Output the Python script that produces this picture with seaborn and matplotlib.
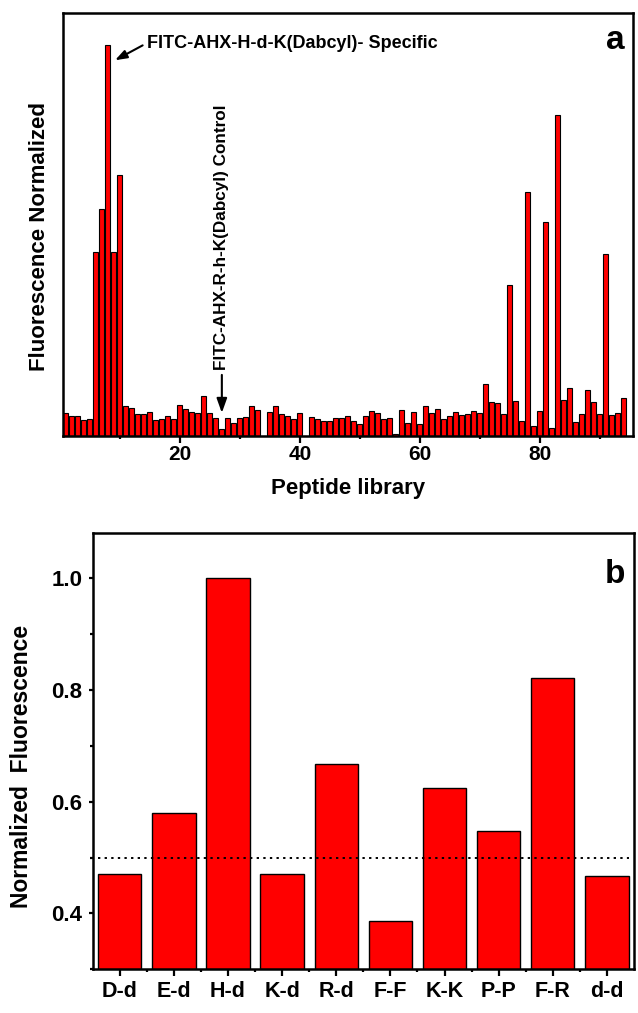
import numpy as np
import pandas as pd
import matplotlib
matplotlib.use('Agg')
import matplotlib.pyplot as plt
import seaborn as sns

# 数据：肽库编号与归一化荧光值
peptide_no = list(range(1, 95))
fluor_norm = [
    0.059, 0.052, 0.052, 0.040, 0.044, 0.471, 0.580, 1.000, 0.471, 0.666,
    0.077, 0.071, 0.055, 0.055, 0.062, 0.040, 0.043, 0.052, 0.043, 0.080,
    0.070, 0.062, 0.059, 0.101, 0.059, 0.047, 0.019, 0.047, 0.034, 0.047,
    0.049, 0.077, 0.067, 0.000, 0.062, 0.076, 0.057, 0.050, 0.043, 0.059,
    0.000, 0.049, 0.043, 0.038, 0.038, 0.046, 0.045, 0.050, 0.039, 0.031,
    0.051, 0.063, 0.059, 0.044, 0.046, 0.004, 0.066, 0.034, 0.061, 0.030,
    0.076, 0.058, 0.070, 0.043, 0.052, 0.062, 0.054, 0.057, 0.064, 0.059,
    0.134, 0.088, 0.085, 0.056, 0.387, 0.089, 0.038, 0.624, 0.026, 0.064,
    0.547, 0.020, 0.821, 0.092, 0.122, 0.035, 0.057, 0.117, 0.088, 0.057,
    0.466, 0.054, 0.059, 0.098,
]

# 选出的二肽
pairs = ['D-d', 'E-d', 'H-d', 'K-d', 'R-d', 'F-F', 'K-K', 'P-P', 'F-R', 'd-d']
pair_fluor = [0.470, 0.579, 1.000, 0.471, 0.667, 0.387, 0.625, 0.547, 0.821, 0.467]

specific_no = 8
control_no = 27
threshold = 0.5

sns.set_style('ticks')
plt.rcParams['font.family'] = ['Liberation Sans', 'DejaVu Sans']
plt.rcParams['font.weight'] = 'bold'
plt.rcParams['axes.labelweight'] = 'bold'
plt.rcParams['axes.linewidth'] = 1.8
# 全部改成纯黑
for k in ['axes.edgecolor', 'axes.labelcolor', 'text.color', 'xtick.color', 'ytick.color']:
    plt.rcParams[k] = 'black'

df_lib = pd.DataFrame({'no': peptide_no, 'val': fluor_norm})
df_pair = pd.DataFrame({'pair': pairs, 'val': pair_fluor})

fig = plt.figure(figsize=(6.38, 10.13), dpi=100)
ax1 = fig.add_axes([0.098, 0.5696, 0.894, 0.4173])
ax2 = fig.add_axes([0.1453, 0.0431, 0.8484, 0.4304])

# 上图：肽库筛选
sns.barplot(data=df_lib, x='no', y='val', native_scale=True, color='red',
            saturation=1, width=0.8, edgecolor='black', linewidth=0.8, ax=ax1)
ax1.set_xlim(0.45, 95.5)
ax1.set_ylim(0, 1.08)
ax1.set_yticks([])
ax1.set_xticks([20, 40, 60, 80])
ax1.set_xticks([10, 30, 50, 70, 90], minor=True)
ax1.tick_params(axis='x', which='major', direction='out', length=5, width=1.6,
                labelsize=15, pad=1.5)
ax1.tick_params(axis='x', which='minor', direction='out', length=2.5, width=1.6)
ax1.set_xlabel('Peptide library', fontsize=16, fontweight='bold', va='center')
ax1.xaxis.set_label_coords(0.5, -0.125)
ax1.set_ylabel('Fluorescence Normalized', fontsize=16, fontweight='bold', va='center')
ax1.yaxis.set_label_coords(-0.04, 0.471)
for s in ax1.spines.values():
    s.set_visible(True)
    s.set_linewidth(1.8)

# 标注
spec_val = fluor_norm[specific_no - 1]
arrow_style = dict(arrowstyle='-|>,head_width=0.25,head_length=0.7',
                   color='black', lw=1.5, shrinkA=0, shrinkB=0)
ax1.text(specific_no + 6.6, spec_val * 1.003, 'FITC-AHX-H-d-K(Dabcyl)- Specific',
         fontsize=13, fontweight='bold', ha='left', va='center')
ax1.annotate('', xy=(specific_no + 1.2, spec_val * 0.96),
             xytext=(specific_no + 5.8, spec_val * 0.998), arrowprops=arrow_style)
ax1.annotate('FITC-AHX-R-h-K(Dabcyl) Control',
             xy=(control_no, 0.059), xytext=(control_no, 0.168),
             fontsize=12.3, fontweight='bold', ha='center', va='bottom',
             rotation=90, arrowprops=dict(arrow_style, shrinkA=1))
ax1.text(0.97, 0.915, 'a', transform=ax1.transAxes, fontsize=24,
         fontweight='bold', ha='center', va='baseline')

# 下图：二肽归一化荧光
sns.barplot(data=df_pair, x='pair', y='val', color='red', saturation=1,
            width=0.8, edgecolor='black', linewidth=1.0, ax=ax2)
ax2.set_xlim(-0.5, 9.5)
ax2.set_ylim(0.3, 1.08)
ax2.set_yticks([0.4, 0.6, 0.8, 1.0])
ax2.set_yticks([0.3, 0.5, 0.7, 0.9], minor=True)
ax2.set_xticks(np.arange(0.5, 9, 1), minor=True)
ax2.tick_params(axis='y', which='major', direction='out', length=3, width=1.6,
                labelsize=16, pad=4.5)
ax2.tick_params(axis='y', which='minor', direction='out', length=2, width=1.6)
ax2.tick_params(axis='x', which='major', direction='out', length=5, width=1.6,
                labelsize=15.5, pad=3.5)
ax2.tick_params(axis='x', which='minor', direction='out', length=2.5, width=1.6)
ax2.hlines(threshold, -0.4, 9.4, colors='black', linestyles=(0, (1.2, 2.2)), lw=1.4)
ax2.set_xlabel('')
ax2.set_ylabel('Normalized  Fluorescence', fontsize=16.5, fontweight='bold', va='center')
ax2.yaxis.set_label_coords(-0.131, 0.466)
ax2.text(0.965, 0.886, 'b', transform=ax2.transAxes, fontsize=24,
         fontweight='bold', ha='center', va='baseline')
for s in ax2.spines.values():
    s.set_visible(True)
    s.set_linewidth(1.8)

plt.savefig('out.png', dpi=100)
